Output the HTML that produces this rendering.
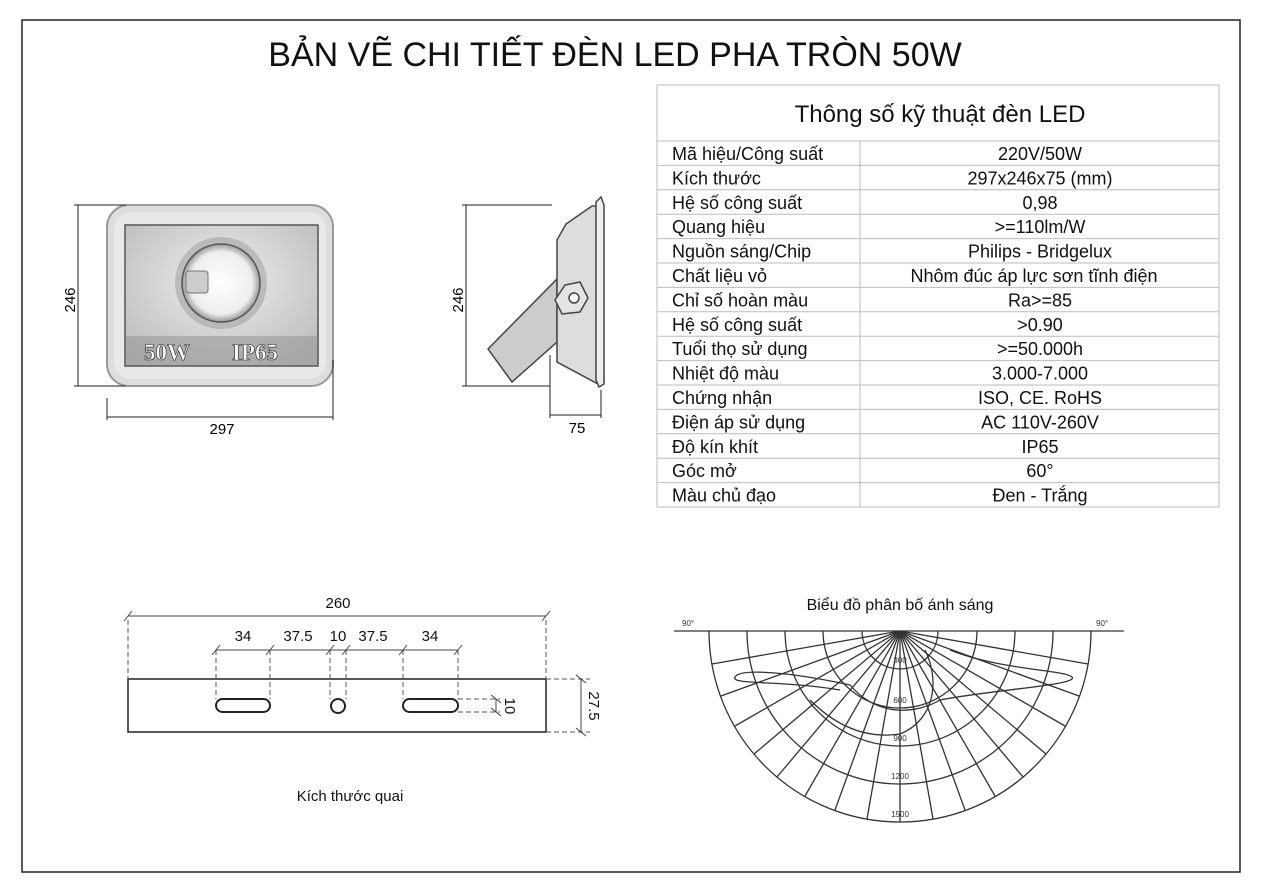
<!DOCTYPE html>
<html><head><meta charset="utf-8"><style>
html,body{margin:0;padding:0;background:#fff;}
svg{display:block;font-family:"Liberation Sans",sans-serif;}
</style></head><body>
<svg width="1262" height="892" viewBox="0 0 1262 892" xmlns="http://www.w3.org/2000/svg">
<defs>
<radialGradient id="lg" cx="50%" cy="50%" r="50%"><stop offset="0" stop-color="#fff"/><stop offset="0.8" stop-color="#eee"/><stop offset="1" stop-color="#999"/></radialGradient>
<radialGradient id="pg" cx="50%" cy="40%" r="70%"><stop offset="0" stop-color="#eee"/><stop offset="1" stop-color="#bbb"/></radialGradient>
</defs>
<rect x="22" y="20" width="1218" height="852" fill="none" stroke="#222" stroke-width="1.5"/>
<text x="615" y="66" font-size="34" text-anchor="middle" fill="#111">BẢN VẼ CHI TIẾT ĐÈN LED PHA TRÒN 50W</text>

<!-- table -->
<g stroke="#bbb" stroke-width="1" fill="none">
<rect x="657" y="85" width="562" height="422"/>
<line x1="657" y1="141" x2="1219" y2="141"/>
<line x1="860" y1="141" x2="860" y2="507"/>
</g>
<text x="940" y="122" font-size="24" text-anchor="middle" fill="#111">Thông số kỹ thuật đèn LED</text>
<g stroke="#bbb">
<line x1="657" y1="165.4" x2="1219" y2="165.4"/><line x1="657" y1="189.8" x2="1219" y2="189.8"/><line x1="657" y1="214.2" x2="1219" y2="214.2"/><line x1="657" y1="238.6" x2="1219" y2="238.6"/><line x1="657" y1="263" x2="1219" y2="263"/><line x1="657" y1="287.4" x2="1219" y2="287.4"/><line x1="657" y1="311.8" x2="1219" y2="311.8"/><line x1="657" y1="336.2" x2="1219" y2="336.2"/><line x1="657" y1="360.6" x2="1219" y2="360.6"/><line x1="657" y1="385" x2="1219" y2="385"/><line x1="657" y1="409.4" x2="1219" y2="409.4"/><line x1="657" y1="433.8" x2="1219" y2="433.8"/><line x1="657" y1="458.2" x2="1219" y2="458.2"/><line x1="657" y1="482.6" x2="1219" y2="482.6"/>
</g>
<g font-size="18" fill="#111">
<text x="672" y="160">Mã hiệu/Công suất</text><text x="1040" y="160" text-anchor="middle">220V/50W</text>
<text x="672" y="184.4">Kích thước</text><text x="1040" y="184.4" text-anchor="middle">297x246x75 (mm)</text>
<text x="672" y="208.8">Hệ số công suất</text><text x="1040" y="208.8" text-anchor="middle">0,98</text>
<text x="672" y="233.2">Quang hiệu</text><text x="1040" y="233.2" text-anchor="middle">&gt;=110lm/W</text>
<text x="672" y="257.6">Nguồn sáng/Chip</text><text x="1040" y="257.6" text-anchor="middle">Philips - Bridgelux</text>
<text x="672" y="282">Chất liệu vỏ</text><text x="1034" y="282" text-anchor="middle">Nhôm đúc áp lực sơn tĩnh điện</text>
<text x="672" y="306.4">Chỉ số hoàn màu</text><text x="1040" y="306.4" text-anchor="middle">Ra&gt;=85</text>
<text x="672" y="330.8">Hệ số công suất</text><text x="1040" y="330.8" text-anchor="middle">&gt;0.90</text>
<text x="672" y="355.2">Tuổi thọ sử dụng</text><text x="1040" y="355.2" text-anchor="middle">&gt;=50.000h</text>
<text x="672" y="379.6">Nhiệt độ màu</text><text x="1040" y="379.6" text-anchor="middle">3.000-7.000</text>
<text x="672" y="404">Chứng nhận</text><text x="1040" y="404" text-anchor="middle">ISO, CE. RoHS</text>
<text x="672" y="428.4">Điện áp sử dụng</text><text x="1040" y="428.4" text-anchor="middle">AC 110V-260V</text>
<text x="672" y="452.8">Độ kín khít</text><text x="1040" y="452.8" text-anchor="middle">IP65</text>
<text x="672" y="477.2">Góc mở</text><text x="1040" y="477.2" text-anchor="middle">60°</text>
<text x="672" y="501.6">Màu chủ đạo</text><text x="1040" y="501.6" text-anchor="middle">Đen - Trắng</text>
</g>

<!-- front lamp -->
<rect x="107" y="205" width="226" height="181" rx="22" fill="#ddd" stroke="#999" stroke-width="2"/>
<rect x="114" y="212" width="212" height="167" rx="17" fill="#e8e8e8"/>
<rect x="125" y="225" width="193" height="141" fill="url(#pg)" stroke="#555" stroke-width="1.5"/>
<rect x="126" y="336" width="191" height="29" fill="#999" opacity="0.6"/>
<circle cx="221" cy="283" r="46" fill="#999" opacity="0.5"/>
<circle cx="221" cy="283" r="39" fill="url(#lg)" stroke="#555" stroke-width="1.5"/>
<rect x="186" y="271" width="22" height="22" rx="3" fill="#ccc" stroke="#777"/>
<g font-family="Liberation Serif,serif" font-weight="bold" font-size="23" fill="#fff" stroke="#222" stroke-width="0.6">
<text x="144" y="360">50W</text><text x="232" y="360">IP65</text></g>
<g stroke="#222" stroke-width="1" fill="none">
<line x1="78" y1="205" x2="78" y2="386"/><line x1="74" y1="205" x2="126" y2="205"/><line x1="74" y1="386" x2="126" y2="386"/>
<line x1="107" y1="398" x2="107" y2="420"/><line x1="333" y1="360" x2="333" y2="420"/><line x1="107" y1="417" x2="333" y2="417"/>
</g>
<text x="222" y="434" font-size="15" text-anchor="middle">297</text>
<text transform="translate(75,300) rotate(-90)" font-size="15" text-anchor="middle">246</text>

<!-- side lamp -->
<g stroke="#444" stroke-width="1.5">
<polygon points="488,349 557,279 557,342 512,382" fill="#ccc"/>
<polygon points="557,240 566,224 592,206 598,206 598,384 557,362" fill="#ddd"/>
<polygon points="596,202 601,197 604,205 604,384 599,387 596,380" fill="#eee"/>
<polygon points="555,300 565,285 580,282 588,298 580,312 562,314" fill="#e4e4e4"/>
<circle cx="574" cy="298" r="5" fill="#fff"/>
</g>
<g stroke="#222" stroke-width="1" fill="none">
<line x1="466" y1="205" x2="466" y2="386"/><line x1="462" y1="205" x2="552" y2="205"/><line x1="462" y1="386" x2="550" y2="386"/>
<line x1="550" y1="355" x2="550" y2="418"/><line x1="601" y1="390" x2="601" y2="418"/><line x1="550" y1="415" x2="601" y2="415"/>
</g>
<text x="577" y="433" font-size="15" text-anchor="middle">75</text>
<text transform="translate(463,300) rotate(-90)" font-size="15" text-anchor="middle">246</text>

<!-- bracket -->
<g stroke="#222" fill="none">
<rect x="128" y="679" width="418" height="53" stroke-width="1.5"/>
<rect x="216" y="699" width="54" height="13" rx="6.5" stroke-width="2"/>
<rect x="403" y="699" width="55" height="13" rx="6.5" stroke-width="2"/>
<circle cx="338" cy="706" r="7" stroke-width="2"/>
<g stroke-dasharray="5,3" stroke="#555" stroke-width="1">
<line x1="128" y1="620" x2="128" y2="679"/><line x1="546" y1="620" x2="546" y2="679"/>
<line x1="216" y1="650" x2="216" y2="699"/><line x1="270" y1="650" x2="270" y2="699"/>
<line x1="330" y1="650" x2="330" y2="699"/><line x1="346" y1="650" x2="346" y2="699"/>
<line x1="403" y1="650" x2="403" y2="699"/><line x1="458" y1="650" x2="458" y2="699"/>
<line x1="546" y1="679" x2="590" y2="679"/><line x1="546" y1="732" x2="590" y2="732"/>
<line x1="458" y1="699" x2="500" y2="699"/><line x1="458" y1="712" x2="500" y2="712"/>
</g>
<g stroke="#444" stroke-width="1">
<line x1="128" y1="616" x2="546" y2="616"/><line x1="124" y1="621" x2="132" y2="611"/><line x1="542" y1="621" x2="550" y2="611"/>
<line x1="216" y1="650" x2="458" y2="650"/>
<line x1="212" y1="655" x2="220" y2="645"/><line x1="266" y1="655" x2="274" y2="645"/><line x1="326" y1="655" x2="334" y2="645"/><line x1="342" y1="655" x2="350" y2="645"/><line x1="399" y1="655" x2="407" y2="645"/><line x1="454" y1="655" x2="462" y2="645"/>
<line x1="581" y1="679" x2="581" y2="732"/><line x1="576" y1="675" x2="586" y2="683"/><line x1="576" y1="728" x2="586" y2="736"/>
<line x1="496" y1="699" x2="496" y2="712"/><line x1="491" y1="695" x2="501" y2="703"/><line x1="491" y1="708" x2="501" y2="716"/>
</g>
</g>
<g font-size="15" fill="#111" text-anchor="middle">
<text x="338" y="608">260</text>
<text x="243" y="641">34</text><text x="298" y="641">37.5</text><text x="338" y="641">10</text><text x="373" y="641">37.5</text><text x="430" y="641">34</text>
<text transform="translate(505,706) rotate(90)">10</text>
<text transform="translate(589,706) rotate(90)">27.5</text>
<text x="350" y="801">Kích thước quai</text>
</g>

<!-- polar -->
<text x="900" y="610" font-size="16" text-anchor="middle" fill="#111">Biểu đồ phân bố ánh sáng</text>
<g font-size="8" fill="#333"><text x="682" y="626">90°</text><text x="1096" y="626">90°</text></g>
<g stroke="#333" stroke-width="1.3" fill="none">
<line x1="674" y1="631" x2="1124" y2="631"/>
<path d="M862,631 A38,38 0 0 0 938,631"/>
<path d="M823,631 A77,77 0 0 0 977,631"/>
<path d="M785,631 A115,115 0 0 0 1015,631"/>
<path d="M747,631 A153,153 0 0 0 1053,631"/>
<path d="M709,631 A191,191 0 0 0 1091,631"/>
<line x1="900" y1="631" x2="900" y2="822"/>
<line x1="900" y1="631" x2="1088" y2="664"/><line x1="900" y1="631" x2="712" y2="664"/>
<line x1="900" y1="631" x2="1079" y2="696"/><line x1="900" y1="631" x2="721" y2="696"/>
<line x1="900" y1="631" x2="1065" y2="726"/><line x1="900" y1="631" x2="735" y2="726"/>
<line x1="900" y1="631" x2="1046" y2="754"/><line x1="900" y1="631" x2="754" y2="754"/>
<line x1="900" y1="631" x2="1023" y2="777"/><line x1="900" y1="631" x2="777" y2="777"/>
<line x1="900" y1="631" x2="995" y2="796"/><line x1="900" y1="631" x2="805" y2="796"/>
<line x1="900" y1="631" x2="965" y2="810"/><line x1="900" y1="631" x2="835" y2="810"/>
<line x1="900" y1="631" x2="933" y2="819"/><line x1="900" y1="631" x2="867" y2="819"/>
<path d="M840,690 C780,680 730,685 735,677 C740,668 790,672 850,685 C880,720 920,712 940,700 C990,690 1080,685 1072,677 C1065,670 1000,670 950,650"/>
<path d="M810,700 C830,720 860,740 900,734 C935,720 940,680 925,650"/>
</g>
<g font-size="8" fill="#333" text-anchor="middle"><text x="900" y="663">300</text><text x="900" y="703">600</text><text x="900" y="741">900</text><text x="900" y="779">1200</text><text x="900" y="817">1500</text></g>
</svg>
</body></html>
